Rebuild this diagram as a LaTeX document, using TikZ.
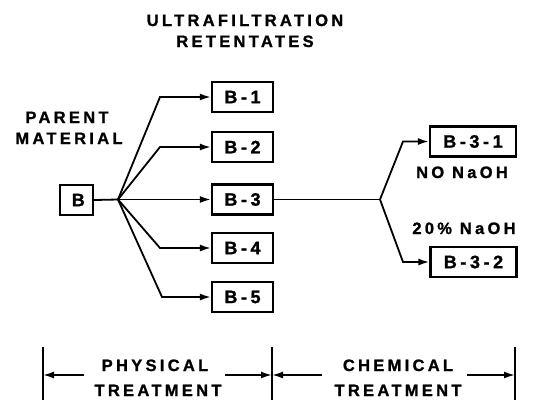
\documentclass[tikz,border=0pt]{standalone}
\usepackage{fontspec}
\setmainfont{Liberation Sans Bold}[LetterSpace=20,FakeBold=1.2]
\usetikzlibrary{arrows.meta}
\begin{document}
\begin{tikzpicture}[x=1pt,y=-1pt,
  lbl/.style={font=\fontsize{16.5}{18}\selectfont, inner sep=0pt, anchor=base},
  bx/.style={draw, line width=2.2pt, minimum height=30pt, inner sep=0pt,
             font=\fontsize{18}{20}\selectfont},
  ln/.style={line width=1.8pt},
  arr/.style={ln, -{Latex[length=11pt,width=7pt]}}]
\useasboundingbox (0,0) rectangle (545,400);
% titles
\node[lbl] (t1) at (245,26) {ULTRAFILTRATION};
\node[lbl] (t2) at (245,47) {RETENTATES};
\node[lbl] (p1) at (67,123) {PARENT};
\node[lbl] (p2) at (69,144) {MATERIAL};
% boxes
\node[bx, minimum width=33pt] (B) at (76.5,200) {\hspace*{0.2em}B};
\node[bx, minimum width=61pt] (B1) at (242.5,97) {B-1};
\node[bx, minimum width=61pt] (B2) at (242.5,147) {B-2};
\node[bx, minimum width=61pt] (B3) at (242.5,199.5) {B-3};
\node[bx, minimum width=61pt] (B4) at (242.5,248) {B-4};
\node[bx, minimum width=61pt] (B5) at (242.5,297) {B-5};
\node[bx, minimum width=86pt] (B31) at (473,141.5) {B-3-1};
\node[bx, minimum width=86pt] (B32) at (473.5,262) {B-3-2};
\node[lbl] (n1) at (462,178) {NO NaOH};
\node[lbl] (n2) at (464,234) {20\% NaOH};
% branch points
\coordinate (br) at (118,199.5);
\coordinate (e1) at (160,97);
\coordinate (e2) at (160,147);
\coordinate (e4) at (160,248);
\coordinate (e5) at (162,297);
\coordinate (sp) at (380,199.5);
\coordinate (f1) at (403,141.5);
\coordinate (f2) at (403,262);
\draw[ln] (B.east) -- (br);
\draw[arr] (br) -- (e1) -- (B1.west);
\draw[arr] (br) -- (e2) -- (B2.west);
\draw[arr] (br) -- (B3.west);
\draw[arr] (br) -- (e4) -- (B4.west);
\draw[arr] (br) -- (e5) -- (B5.west);
\draw[ln] (B3.east) -- (sp);
\draw[arr] (sp) -- (f1) -- (B31.west);
\draw[arr] (sp) -- (f2) -- (B32.west);
% bottom scale
\coordinate (v1t) at (43,347); \coordinate (v1b) at (43,400);
\coordinate (v2t) at (272,347); \coordinate (v2b) at (272,400);
\coordinate (v3t) at (515,347); \coordinate (v3b) at (515,400);
\draw[ln] (v1t) -- (v1b);
\draw[ln] (v2t) -- (v2b);
\draw[ln] (v3t) -- (v3b);
\node[lbl] (ph1) at (155,371) {PHYSICAL};
\node[lbl] (ph2) at (158,396) {TREATMENT};
\node[lbl] (ch1) at (398,371) {CHEMICAL};
\node[lbl] (ch2) at (398,396) {TREATMENT};
\coordinate (a1) at (84,375);
\coordinate (a2) at (225,375);
\coordinate (a3) at (322,375);
\coordinate (a4) at (467,375);
\draw[arr] (a1) -- (a1 -| v1t);
\draw[arr] (a2) -- (a2 -| v2t);
\draw[arr] (a3) -- (a3 -| v2t);
\draw[arr] (a4) -- (a4 -| v3t);
\end{tikzpicture}
\end{document}
